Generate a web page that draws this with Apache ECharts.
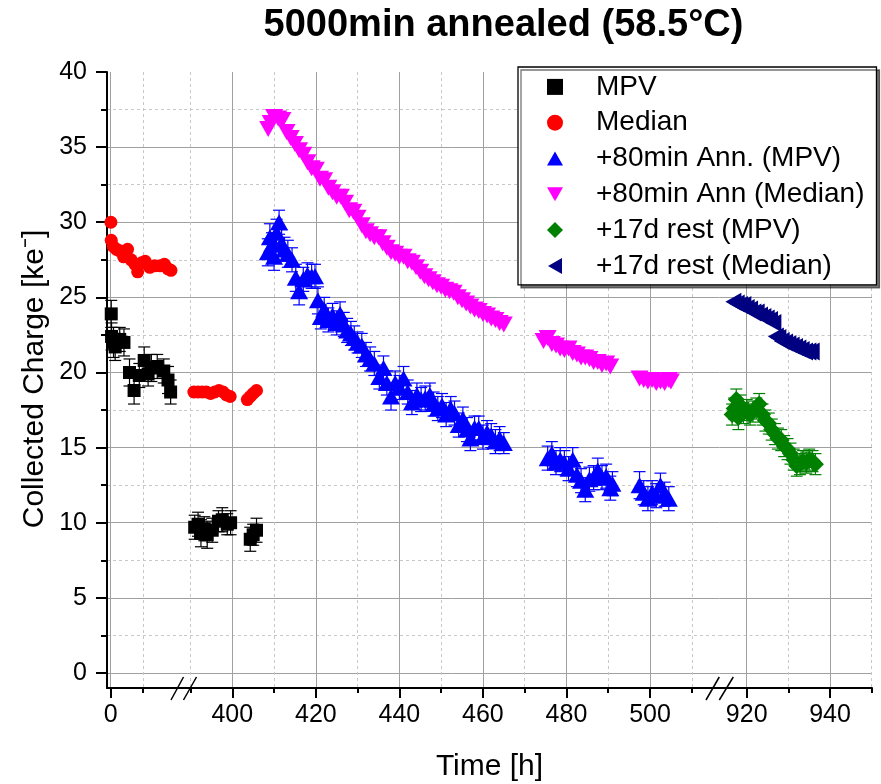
<!DOCTYPE html>
<html><head><meta charset="utf-8">
<script src="https://cdn.jsdelivr.net/npm/echarts@6/dist/echarts.min.js"></script>
<style>html,body{margin:0;padding:0;background:#fff}#c{width:881px;height:784px}</style>
</head><body><div id="c"></div>
<script>
const FONT = '"Liberation Sans", Arial, Helvetica, sans-serif';

// ---- tick values ----
const yMajorTicks = [0, 5, 10, 15, 20, 25, 30, 35, 40];
const yMinorTicks = [2.5, 7.5, 12.5, 17.5, 22.5, 27.5, 32.5, 37.5];
const xMajor1 = [0], xMinor1 = [10];
const xMajor2 = [400, 420, 440, 460, 480, 500], xMinor2 = [390, 410, 430, 450, 470, 490, 510];
const xMajor3 = [920, 940], xMinor3 = [930, 950];

// ---- series data: [time h, charge ke-, error] ----
const mpvEarly = [[0.2,23.9,0.9],[0.3,22.4,0.9],[0.9,22.0,1.0],[1.4,21.7,0.9],[2.8,22.2,0.8],[4.1,22.0,0.9],
  [5.8,20.0,0.9],[7.2,18.8,0.9],[8.8,19.8,0.8],[10.3,20.8,0.9],[11.5,19.9,0.8],[12.5,20.3,0.9],[14.3,20.4,0.8],
  [16.3,20.1,0.8],[17.6,19.5,0.9],[18.4,18.7,0.8]];
const mpvLate = [[391.0,9.7,0.8],[391.8,9.9,0.8],[392.5,9.3,0.9],[393.3,9.6,0.8],[394.0,9.2,0.9],[395.2,9.5,0.8],
  [396.7,10.1,0.7],[397.6,10.2,0.8],[398.8,9.9,0.7],[399.6,10.0,0.8],[404.3,8.9,0.8],[405.0,9.2,0.7],[405.8,9.5,0.8]];
const medianEarly = [[0.1,30.0],[0.2,28.8],[0.8,28.4],[1.8,28.2],[2.8,28.1],[4.0,27.7],[5.2,28.2],[6.3,27.5],
  [7.5,27.2],[8.3,26.7],[9.5,27.3],[10.6,27.4],[12.0,27.0],[13.5,27.1],[15.2,27.1],[16.5,27.2],[17.6,26.9],[18.5,26.8]];
const medianLate = [[390.8,18.7],[391.8,18.7],[392.8,18.7],[393.8,18.7],[394.8,18.6],[395.8,18.7],[396.8,18.8],
  [397.8,18.7],[398.6,18.5],[399.5,18.4],[403.6,18.2],[404.3,18.4],[405.0,18.6],[405.8,18.8]];
const annMpv = [[408.5,28.0,0.9],[409.0,29.0,0.9],[409.5,28.5,0.8],[410.0,27.7,0.9],[410.6,29.3,0.9],[411.2,30.0,0.8],
  [411.8,28.6,0.9],[412.5,28.2,0.8],[413.3,27.9,0.9],[414.3,27.5,0.8],[415.2,26.3,0.9],[416.0,25.4,0.9],[417.0,26.2,0.8],
  [418.0,26.5,0.8],[419.0,26.4,0.8],[419.8,26.4,0.8],[420.5,24.8,0.9],[421.2,23.7,0.8],[422.0,24.2,0.8],[423.0,23.5,0.8],
  [424.0,23.8,0.8],[425.0,23.3,0.8],[425.8,23.9,0.8],[426.7,23.2,0.8],[427.5,22.8,0.8],[428.4,22.6,0.8],[429.2,22.3,0.8],
  [430.0,22.0,0.7],[431.0,21.8,0.8],[432.0,21.2,0.8],[433.0,20.9,0.8],[434.0,20.6,0.8],[435.2,19.7,0.8],[436.2,20.3,0.8],
  [437.0,19.3,0.8],[438.0,18.4,0.9],[439.0,19.3,0.8],[440.0,19.0,0.8],[441.0,19.6,0.8],[442.0,18.7,0.8],[443.0,18.0,0.8],
  [444.2,18.5,0.8],[445.2,18.2,0.8],[446.2,18.3,0.8],[447.3,18.5,0.8],[448.2,17.9,0.8],[449.2,17.6,0.8],[450.2,17.8,0.8],
  [451.2,17.2,0.8],[452.3,17.6,0.8],[453.2,17.3,0.8],[454.2,16.5,0.8],[455.2,16.9,0.8],[456.2,16.2,0.8],[457.0,15.6,0.8],
  [458.0,16.3,0.8],[459.0,16.3,0.8],[460.0,15.7,0.8],[461.0,16.0,0.8],[462.0,15.8,0.8],[463.0,15.4,0.8],[464.0,15.6,0.8],
  [465.0,15.3,0.7],
  [475.5,14.3,0.8],[476.5,14.6,0.8],[477.5,14.0,0.8],[478.5,14.2,0.8],[479.5,14.0,0.8],[480.5,13.6,0.8],[481.5,14.2,0.8],
  [482.5,13.2,0.8],[483.5,12.8,0.8],[484.5,12.2,0.8],[485.5,12.9,0.8],[486.5,13.0,0.8],[487.5,13.5,0.8],[488.5,13.0,0.8],
  [489.5,13.1,0.8],[490.5,12.3,0.8],[491.0,12.6,0.8],
  [497.5,12.5,0.9],[498.5,12.0,0.8],[499.5,11.6,0.8],[500.5,12.0,0.8],[501.5,11.8,0.8],[502.5,12.5,0.8],[503.5,11.9,0.8],[504.5,11.6,0.8]];
const annMedian = [[408.6,36.2],[409.2,36.6],[410.0,37.0],[411.0,36.9],[412.0,36.8],[413.0,36.0],[414.0,35.6],[415.0,35.2],
  [416.0,34.8],[417.0,34.5],[418.0,34.0],[419.0,33.6],[420.0,33.5],[421.0,32.9],[422.0,32.8],[423.0,32.3],[424.0,32.0],
  [425.0,31.7],[426.0,31.7],[427.0,31.3],[428.0,30.8],[429.0,30.7],[430.0,30.3],[431.0,29.8],[432.0,29.4],[433.0,29.2],
  [434.0,29.0],[435.0,29.0],[436.0,28.6],[437.0,28.3],[438.0,28.0],[439.0,27.9],[440.0,27.7],[441.0,27.7],[442.0,27.4],
  [443.0,27.3],[444.0,27.0],[445.0,26.7],[446.0,26.4],[447.0,26.2],[448.0,26.0],[449.0,25.8],[450.0,25.7],[451.0,25.5],
  [452.0,25.4],[453.0,25.3],[454.0,25.0],[455.0,24.8],[456.0,24.6],[457.0,24.4],[458.0,24.2],[459.0,24.1],[460.0,23.9],
  [461.0,23.8],[462.0,23.6],[463.0,23.5],[464.0,23.3],[465.0,23.2],
  [474.5,22.1],[475.5,22.3],[476.5,21.9],[477.5,21.8],[478.5,21.6],[479.5,21.5],[480.5,21.6],[481.5,21.3],[482.5,21.2],
  [483.5,21.0],[484.5,21.0],[485.5,20.9],[486.5,20.7],[487.5,20.7],[488.5,20.5],[489.5,20.6],[490.5,20.4],
  [497.5,19.6],[498.5,19.5],[499.5,19.4],[500.5,19.5],[501.5,19.3],[502.5,19.4],[503.5,19.3],[504.5,19.5],[505.0,19.4]];
const restMpv = [[916.5,17.2,0.7],[917.0,17.6,0.7],[917.5,18.2,0.7],[918.0,17.0,0.8],[918.5,17.8,0.7],[919.2,17.3,0.7],
  [920.0,17.5,0.7],[920.8,17.2,0.7],[921.5,17.4,0.7],[922.3,17.6,0.7],[923.0,17.9,0.7],[923.8,17.2,0.7],[924.5,16.8,0.7],
  [925.3,16.6,0.7],[926.0,16.2,0.7],[926.8,15.9,0.7],[927.5,15.6,0.7],[928.3,15.5,0.7],[929.0,15.1,0.7],[929.8,14.9,0.7],
  [930.5,14.6,0.7],[931.3,14.2,0.7],[932.0,13.8,0.7],[932.8,13.9,0.7],[933.5,14.1,0.7],[934.3,14.0,0.7],[935.0,14.2,0.7],
  [935.8,14.1,0.7],[936.5,13.9,0.7]];
const restMedian = [[916.8,24.7],[917.6,24.6],[918.4,24.5],[919.2,24.5],[920.0,24.3],[920.8,24.2],[921.6,24.0],[922.4,24.0],
  [923.2,23.8],[924.0,23.7],[924.8,23.6],[925.6,23.5],[926.4,23.3],[927.0,22.4],[927.6,22.3],[928.4,22.1],[929.2,22.0],
  [930.0,21.9],[930.8,21.8],[931.6,21.7],[932.4,21.6],[933.2,21.5],[934.0,21.4],[934.8,21.4],[935.6,21.4]];

const legendNames = ['MPV', 'Median', '+80min Ann. (MPV)', '+80min Ann (Median)', '+17d rest (MPV)', '+17d rest (Median)'];
const legendIcons = ['path://M0,0L12,0L12,12L0,12Z', 'circle', 'path://M8,0L16,14L0,14Z', 'path://M0,0L16,0L8,14Z',
  'path://M8,0L16,8L8,16L0,8Z', 'path://M14,0L14,16L0,8Z'];

// ---- layout of the broken axis ----
const gridBoxes = [
  {left: 107, top: 72, width: 77, height: 616},
  {left: 184, top: 72, width: 535.5, height: 616},
  {left: 719.5, top: 72, width: 152.5, height: 616}
];
const xRanges = [[-1.1, 22.5], [388.44, 516.64], [913.47, 950.08]];
const xMajors = [xMajor1, xMajor2, xMajor3];
const xMinors = [xMinor1, xMinor2, xMinor3];

const xAxes = [], yAxes = [];
gridBoxes.forEach((g, i) => {
  xAxes.push({
    type: 'value', gridIndex: i, min: xRanges[i][0], max: xRanges[i][1], position: 'bottom',
    axisLine: {show: true, onZero: false, lineStyle: {color: '#000', width: 2}},
    axisTick: {show: true, inside: false, length: 10, lineStyle: {color: '#000', width: 2}, customValues: xMajors[i]},
    axisLabel: {show: true, customValues: xMajors[i], margin: 15, fontSize: 25, color: '#000', fontFamily: FONT},
    splitLine: {show: true, lineStyle: {color: '#a0a0a0', width: 1}},
    minorTick: {show: false}
  });
  xAxes.push({
    type: 'value', gridIndex: i, min: xRanges[i][0], max: xRanges[i][1], position: 'bottom',
    axisLine: {show: false, onZero: false},
    axisTick: {show: true, inside: false, length: 5, lineStyle: {color: '#000', width: 2}, customValues: xMinors[i]},
    axisLabel: {show: false},
    splitLine: {show: true, lineStyle: {color: '#c8c8c8', width: 1, type: [3, 3]}}
  });
  const first = i === 0;
  yAxes.push({
    type: 'value', gridIndex: i, min: -1, max: 40, position: 'left',
    axisLine: {show: first, onZero: false, lineStyle: {color: '#000', width: 2}},
    axisTick: {show: first, inside: false, length: 11, lineStyle: {color: '#000', width: 2}, customValues: yMajorTicks},
    axisLabel: {show: first, customValues: yMajorTicks, margin: 20, fontSize: 25, color: '#000', fontFamily: FONT},
    splitLine: {show: true, showMaxLine: false, lineStyle: {color: '#a0a0a0', width: 1}}
  });
  yAxes.push({
    type: 'value', gridIndex: i, min: -1, max: 40, position: 'left',
    axisLine: {show: false, onZero: false},
    axisTick: {show: first, inside: false, length: 6, lineStyle: {color: '#000', width: 2}, customValues: yMinorTicks},
    axisLabel: {show: false},
    splitLine: {show: true, lineStyle: {color: '#c8c8c8', width: 1, type: [3, 3]}}
  });
});

function errBars(name, data, gi, color) {
  return {
    type: 'custom', name: name + ' err', xAxisIndex: gi * 2, yAxisIndex: gi * 2, z: 1,
    data: data, encode: {x: 0, y: 1}, silent: true,
    renderItem: function (params, api) {
      const x = api.value(0), y = api.value(1), e = api.value(2);
      const hi = api.coord([x, y + e]), lo = api.coord([x, y - e]);
      const w = 6;
      const st = {stroke: color, lineWidth: 1.2};
      return {type: 'group', children: [
        {type: 'line', shape: {x1: hi[0], y1: hi[1], x2: lo[0], y2: lo[1]}, style: st},
        {type: 'line', shape: {x1: hi[0] - w, y1: hi[1], x2: hi[0] + w, y2: hi[1]}, style: st},
        {type: 'line', shape: {x1: lo[0] - w, y1: lo[1], x2: lo[0] + w, y2: lo[1]}, style: st}
      ]};
    }
  };
}
function pts(name, data, gi, color, symbol, size, rotate) {
  return {
    type: 'scatter', name: name, xAxisIndex: gi * 2, yAxisIndex: gi * 2, z: 3,
    data: data.map(d => [d[0], d[1]]), symbol: symbol, symbolSize: size, symbolRotate: rotate || 0,
    itemStyle: {color: color, opacity: 1}, emphasis: {disabled: true}, animation: false
  };
}

const series = [
  errBars('MPV', mpvEarly, 0, '#000'),
  errBars('MPV', mpvLate, 1, '#000'),
  errBars('ann', annMpv, 1, '#0000ff'),
  errBars('rest', restMpv, 2, '#008000'),
  pts('MPV', mpvEarly, 0, '#000', 'rect', 13),
  pts('MPV', mpvLate, 1, '#000', 'rect', 13),
  pts('Median', medianEarly, 0, '#ff0000', 'circle', 13),
  pts('Median', medianLate, 1, '#ff0000', 'circle', 13),
  pts('+80min Ann. (MPV)', annMpv, 1, '#0000ff', 'triangle', [18, 16]),
  pts('+80min Ann (Median)', annMedian, 1, '#ff00ff', 'triangle', [18, 16], 180),
  pts('+17d rest (MPV)', restMpv, 2, '#008000', 'diamond', 17),
  pts('+17d rest (Median)', restMedian, 2, '#000080', 'triangle', [18, 16], 90)
];

const chart = echarts.init(document.getElementById('c'), null, {renderer: 'canvas'});
chart.setOption({
  animation: false,
  backgroundColor: '#fff',
  grid: gridBoxes,
  xAxis: xAxes,
  yAxis: yAxes,
  legend: {
    data: legendNames.map((n, i) => ({name: n, icon: legendIcons[i]})),
    orient: 'vertical', left: 518, top: 67, padding: [2, 12, 1, 29],
    itemWidth: 16, itemHeight: 16, itemGap: 0, selectedMode: false, symbolRotate: 0,
    backgroundColor: '#fff', borderColor: '#000', borderWidth: 1.3,
    shadowColor: 'rgba(0,0,0,0.55)', shadowOffsetX: 3, shadowOffsetY: 3, shadowBlur: 0,
    textStyle: {fontSize: 28, fontFamily: FONT, color: '#000', lineHeight: 35.8, padding: [0, 0, 0, 28]}
  },
  graphic: [
    {type: 'text', x: 503.5, y: 26, style: {text: '5000min annealed (58.5°C)', font: 'bold 38px ' + FONT, fill: '#000', align: 'center', verticalAlign: 'middle'}},
    {type: 'text', x: 489.5, y: 767, style: {text: 'Time [h]', font: '30px ' + FONT, fill: '#000', align: 'center', verticalAlign: 'middle'}},
    {type: 'text', x: 35, y: 379, rotation: Math.PI / 2, style: {text: 'Collected Charge [ke\u207B]', font: '30px ' + FONT, fill: '#000', align: 'center', verticalAlign: 'middle'}},
    {type: 'line', shape: {x1: 171, y1: 700, x2: 183.5, y2: 677}, style: {stroke: '#000', lineWidth: 1.5}, z: 100},
    {type: 'line', shape: {x1: 183.5, y1: 700, x2: 196.5, y2: 677}, style: {stroke: '#000', lineWidth: 1.5}, z: 100},
    {type: 'line', shape: {x1: 706, y1: 700, x2: 719.3, y2: 677}, style: {stroke: '#000', lineWidth: 1.5}, z: 100},
    {type: 'line', shape: {x1: 719.3, y1: 700, x2: 733.3, y2: 677}, style: {stroke: '#000', lineWidth: 1.5}, z: 100}
  ],
  series: series
});
</script>
</body></html>
